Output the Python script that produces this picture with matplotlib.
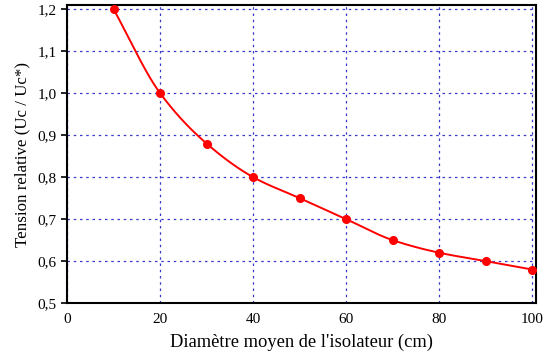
import numpy as np
import matplotlib
matplotlib.use("Agg")
import matplotlib.pyplot as plt
from matplotlib.ticker import FuncFormatter

diametre = [10, 20, 30, 40, 50, 60, 70, 80, 90, 100]
tension = [1.20, 1.00, 0.88, 0.80, 0.75, 0.70, 0.65, 0.62, 0.60, 0.58]
x_ticks = [0, 20, 40, 60, 80, 100]
y_ticks = [0.5, 0.6, 0.7, 0.8, 0.9, 1.0, 1.1, 1.2]

plt.rcParams['font.family'] = ['Liberation Serif', 'DejaVu Serif']


def smooth_curve(x, y, xs):
    # monotone cubic Hermite (Fritsch-Carlson) for drawing the line
    x = np.asarray(x, float); y = np.asarray(y, float)
    h = np.diff(x); d = np.diff(y) / h
    n = len(x)
    m = np.zeros(n)
    m[0] = d[0]; m[-1] = d[-1]
    for i in range(1, n - 1):
        if d[i - 1] * d[i] <= 0:
            m[i] = 0
        else:
            w1 = 2 * h[i] + h[i - 1]; w2 = h[i] + 2 * h[i - 1]
            m[i] = (w1 + w2) / (w1 / d[i - 1] + w2 / d[i])
    out = np.empty_like(xs)
    for k, xv in enumerate(xs):
        i = min(max(np.searchsorted(x, xv) - 1, 0), n - 2)
        t = (xv - x[i]) / h[i]
        h00 = 2 * t**3 - 3 * t**2 + 1; h10 = t**3 - 2 * t**2 + t
        h01 = -2 * t**3 + 3 * t**2; h11 = t**3 - t**2
        out[k] = h00 * y[i] + h10 * h[i] * m[i] + h01 * y[i + 1] + h11 * h[i] * m[i + 1]
    return out

fig = plt.figure(figsize=(5.5, 3.57), dpi=100)
ax = fig.add_axes([0.122, 0.151, 0.853, 0.835])

xs = np.linspace(diametre[0], diametre[-1], 400)
ax.plot(xs, smooth_curve(diametre, tension, xs), color='#ff0000', lw=1.4, zorder=3)
ax.plot(diametre, tension, 'o', color='#ff0000', ms=5.5, zorder=4)

ax.set_xlim(0, 100.9)
ax.set_ylim(0.5, 1.21)
ax.set_xticks(x_ticks)
ax.set_yticks(y_ticks)
ax.yaxis.set_major_formatter(FuncFormatter(lambda v, p: f"{v:.1f}".replace('.', ',')))
ax.grid(True, color='#3a3ac8', linestyle=(0, (2, 3)), linewidth=0.9)
ax.tick_params(axis='x', length=0, pad=7, labelsize=11)
ax.tick_params(axis='y', length=4, width=1.2, direction='out', labelsize=11)
for s in ax.spines.values():
    s.set_linewidth(1.5)
ax.set_xlabel("Diamètre moyen de l'isolateur (cm)", fontsize=13.3, labelpad=6)
ax.set_ylabel("Tension relative (Uc / Uc*)", fontsize=12.2, labelpad=5)

fig.savefig("out.png", dpi=100)
